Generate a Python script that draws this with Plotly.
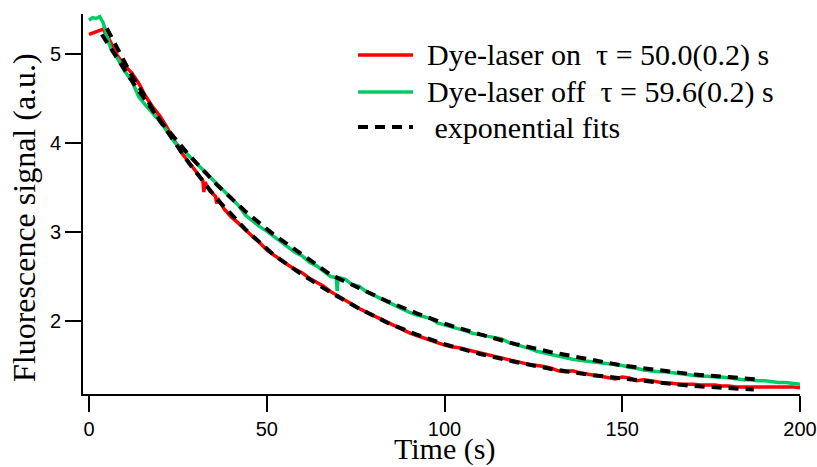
import plotly.graph_objects as go

# ---------------- data ----------------
t_red = [0, 2, 4, 6, 8, 10, 12, 14, 16, 18, 20, 22, 24, 26, 28, 30, 32, 32.3, 32.6, 34, 35.6, 35.9, 36.2, 38,
         40, 42, 44, 46, 48, 50, 52, 54, 56, 58, 60, 62, 64, 66, 68, 70, 72, 74, 76, 78, 80,
         82, 84, 86, 88, 90, 92, 94, 96, 98, 100, 102, 104, 106, 108, 110, 112, 114, 116, 118, 120,
         122, 124, 126, 128, 130, 132, 134, 136, 138, 140, 142, 144, 146, 148, 150, 152, 154, 156, 158, 160,
         162, 164, 166, 168, 170, 172, 174, 176, 178, 180, 182, 184, 186, 188, 190, 192, 194, 196, 198, 200]
v_red = [5.22, 5.25, 5.28, 5.14, 4.98, 4.87, 4.79, 4.67, 4.52, 4.40, 4.30, 4.17, 4.02, 3.89, 3.79, 3.68, 3.58, 3.45, 3.56, 3.46, 3.40, 3.32, 3.38, 3.26,
         3.17, 3.10, 3.02, 2.95, 2.88, 2.80, 2.74, 2.68, 2.63, 2.58, 2.54, 2.48, 2.44, 2.39, 2.33, 2.28, 2.23, 2.19, 2.14, 2.10, 2.06,
         2.02, 1.98, 1.94, 1.91, 1.87, 1.84, 1.81, 1.78, 1.76, 1.73, 1.71, 1.70, 1.68, 1.66, 1.64, 1.62, 1.60, 1.58, 1.56, 1.54,
         1.53, 1.51, 1.50, 1.49, 1.47, 1.44, 1.43, 1.44, 1.42, 1.40, 1.39, 1.38, 1.36, 1.35, 1.37, 1.36, 1.33, 1.34, 1.33, 1.31,
         1.30, 1.30, 1.29, 1.29, 1.29, 1.28, 1.28, 1.28, 1.27, 1.27, 1.26, 1.26, 1.26, 1.26, 1.26, 1.26, 1.26, 1.26, 1.26, 1.25]

t_green = [0, 1, 2, 3, 4, 6, 8, 10, 12, 14, 16, 18, 20, 22, 24, 26, 28, 30, 32, 34, 36, 38,
           40, 42, 44, 46, 48, 50, 52, 54, 56, 58, 60, 62, 64, 66, 68, 69.5, 69.8, 70.1, 72, 74, 76, 78, 80,
           82, 84, 86, 88, 90, 92, 94, 96, 98, 100, 102, 104, 106, 108, 110, 112, 114, 116, 118, 120,
           122, 124, 126, 128, 130, 132, 134, 136, 138, 140, 142, 144, 146, 148, 150, 152, 154, 156, 158, 160,
           162, 164, 166, 168, 170, 172, 174, 176, 178, 180, 182, 184, 186, 188, 190, 192, 194, 196, 198, 200]
v_green = [5.38, 5.41, 5.40, 5.42, 5.35, 5.07, 4.95, 4.81, 4.70, 4.52, 4.42, 4.33, 4.24, 4.13, 4.01, 3.94, 3.86, 3.78, 3.70, 3.61, 3.53, 3.45,
           3.38, 3.30, 3.19, 3.12, 3.06, 3.01, 2.95, 2.90, 2.84, 2.77, 2.73, 2.66, 2.62, 2.56, 2.50, 2.49, 2.34, 2.49, 2.47, 2.41, 2.39, 2.33, 2.29,
           2.26, 2.21, 2.17, 2.13, 2.10, 2.07, 2.05, 2.03, 1.98, 1.96, 1.93, 1.92, 1.89, 1.86, 1.85, 1.83, 1.81, 1.80, 1.76, 1.74,
           1.72, 1.69, 1.66, 1.64, 1.62, 1.61, 1.59, 1.57, 1.56, 1.55, 1.54, 1.53, 1.52, 1.51, 1.50, 1.48, 1.47, 1.45, 1.44, 1.43,
           1.43, 1.42, 1.41, 1.40, 1.39, 1.38, 1.38, 1.37, 1.37, 1.36, 1.35, 1.34, 1.34, 1.33, 1.33, 1.32, 1.31, 1.31, 1.30, 1.29]

t_fit_red = [5, 12, 20, 28, 36, 44, 52, 60, 68, 76, 84, 92, 100, 110, 120, 130, 140, 150, 160, 170, 180, 187]
v_fit_red = [5.29, 4.76, 4.25, 3.78, 3.37, 3.03, 2.74, 2.52, 2.32, 2.14, 1.98, 1.85, 1.74, 1.63, 1.54, 1.46, 1.40, 1.35, 1.31, 1.27, 1.25, 1.23]

t_fit_green = [3.6, 12, 20, 28, 36, 44, 52, 60, 68, 76, 84, 92, 100, 110, 120, 130, 140, 150, 160, 170, 180, 189]
v_fit_green = [5.22, 4.70, 4.25, 3.87, 3.53, 3.23, 2.97, 2.74, 2.52, 2.37, 2.22, 2.09, 1.97, 1.85, 1.74, 1.65, 1.57, 1.50, 1.45, 1.40, 1.37, 1.34]

x_ticks = [0, 50, 100, 150, 200]
y_ticks = [2, 3, 4, 5]

x_title = "Time (s)"
y_title = "Fluorescence signal (a.u.)"
legend_labels = ["Dye-laser on\u00a0\u00a0\u03c4 = 50.0(0.2) s",
                 "Dye-laser off\u00a0\u00a0\u03c4 = 59.6(0.2) s",
                 "\u00a0exponential fits"]

RED = "#FF0000"
GREEN = "#00CC66"
BLACK = "#000000"
SERIF = "Liberation Serif"
SANS = "Liberation Sans"

fig = go.Figure()
fig.add_trace(go.Scatter(x=t_red, y=v_red, mode="lines", line=dict(color=RED, width=3.5),
                         name=legend_labels[0], showlegend=False))
fig.add_trace(go.Scatter(x=t_green, y=v_green, mode="lines", line=dict(color=GREEN, width=3.5),
                         name=legend_labels[1], showlegend=False))
fig.add_trace(go.Scatter(x=t_fit_red, y=v_fit_red, mode="lines", line=dict(color=BLACK, width=4, dash="10px,7px"),
                         name=legend_labels[2], showlegend=False))
fig.add_trace(go.Scatter(x=t_fit_green, y=v_fit_green, mode="lines", line=dict(color=BLACK, width=4, dash="10px,7px"),
                         name=legend_labels[2], showlegend=False))

# plot-area geometry in pixels
L, R_, T, B = 83, 800, 14, 394
W, H = R_ - L, B - T
def px(x):
    return (x - L) / W
def py(y):
    return (B - y) / H

# manual legend (paper coordinates)
rows = [55, 92, 127]
styles = [dict(color=RED, width=3.5), dict(color=GREEN, width=3.5), dict(color=BLACK, width=4, dash="10px,7px")]
for ry, st, lab in zip(rows, styles, legend_labels):
    fig.add_shape(type="line", xref="paper", yref="paper", x0=px(358), x1=px(413), y0=py(ry), y1=py(ry),
                  line=st)
    fig.add_annotation(xref="paper", yref="paper", x=px(425), y=py(ry), text=lab, showarrow=False,
                       xanchor="left", yanchor="middle",
                       font=dict(family=SERIF, size=30, color="black"))

# axis titles
fig.add_annotation(xref="paper", yref="paper", x=px(444), y=py(467), text=x_title, showarrow=False,
                   xanchor="center", yanchor="bottom", borderpad=0,
                   font=dict(family=SERIF, size=30, color="black"))
fig.add_annotation(xref="paper", yref="paper", x=px(24), y=py(218), text=y_title, showarrow=False,
                   textangle=-90, xanchor="center", yanchor="middle",
                   font=dict(family=SERIF, size=32, color="black"))

axis_common = dict(ticks="outside", ticklen=16, tickwidth=2, tickcolor="black", showline=True,
                   linecolor="black", linewidth=2, showgrid=False, zeroline=False, automargin=False,
                   tickfont=dict(family=SANS, size=20, color="black"))

fig.update_layout(
    width=817, height=467,
    margin=dict(l=L, r=817 - R_, t=T, b=467 - B),
    paper_bgcolor="white", plot_bgcolor="white",
    showlegend=False,
    xaxis=dict(range=[-1.7, 200], tickvals=x_ticks, **axis_common),
    yaxis=dict(range=[1.18, 5.45], tickvals=y_ticks, **axis_common),
)

fig.write_html("out.html", config={"displayModeBar": False},
               post_script="document.body.style.margin='0px';document.body.style.overflow='hidden';")
